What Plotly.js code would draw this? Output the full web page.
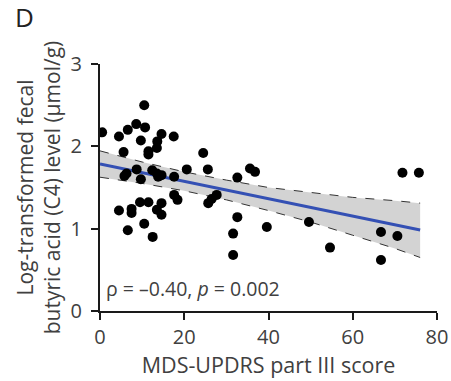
<!DOCTYPE html>
<html>
<head>
<meta charset="utf-8">
<script src="https://cdn.plot.ly/plotly-3.0.1.min.js"></script>
<style>html,body{margin:0;padding:0;background:#fff;}#chart{width:451px;height:381px;}</style>
</head>
<body>
<div id="chart"></div>
<script>
// MDS-UPDRS part III score (x) and log-transformed fecal C4 level (y)
var updrs = [10.5,0.5,4.5,6.6,8.6,10.7,9.7,14.6,17.5,13.6,13.5,11.5,11.5,5.6,24.5,20.6,25.6,35.6,36.8,32.6,
             8.7,6.3,5.8,9.7,12.4,13.5,14.6,13.8,17.6,17.6,18.4,27.7,26.5,25.7,9.5,11.5,14.6,4.5,7.5,7.5,
             13.5,14.6,10.5,6.6,12.5,32.6,31.6,31.6,39.6,49.6,54.6,66.7,70.6,66.7,71.8,75.7];
var c4 = [2.50,2.17,2.12,2.20,2.27,2.23,2.07,2.15,2.12,2.06,1.98,1.94,1.90,1.93,1.92,1.72,1.72,1.73,1.69,1.62,
          1.72,1.67,1.64,1.60,1.71,1.67,1.65,1.63,1.63,1.41,1.35,1.41,1.36,1.31,1.32,1.32,1.31,1.22,1.24,1.19,
          1.23,1.17,1.06,0.98,0.90,1.14,0.94,0.68,1.02,1.08,0.77,0.96,0.91,0.62,1.68,1.68];
// Regression line and 95% confidence band
var fitX = [0, 76];
var fitY = [1.785, 0.983];
var bandX = [0, 10, 20, 30, 40, 50, 60, 70, 76];
var bandUpper = [1.945, 1.81, 1.69, 1.59, 1.50, 1.44, 1.38, 1.34, 1.31];
var bandLower = [1.625, 1.55, 1.46, 1.35, 1.22, 1.08, 0.92, 0.76, 0.65];
var xTicks = [0, 20, 40, 60, 80];
var yTicks = [0, 1, 2, 3];

var txtColor = '#404040';
var font = 'Open Sans, sans-serif';

var traces = [
  {x: bandX, y: bandLower, mode: 'lines', line: {color: '#333', width: 1, dash: 'dash'}, hoverinfo: 'skip', showlegend: false},
  {x: bandX, y: bandUpper, mode: 'lines', fill: 'tonexty', fillcolor: '#d3d3d3', line: {color: '#333', width: 1, dash: 'dash'}, hoverinfo: 'skip', showlegend: false},
  {x: fitX, y: fitY, mode: 'lines', line: {color: '#3450b4', width: 3}, showlegend: false},
  {x: updrs, y: c4, mode: 'markers', marker: {color: '#000', size: 10}, showlegend: false}
];

var layout = {
  width: 451, height: 381,
  margin: {l: 100, r: 14, t: 64, b: 70},
  paper_bgcolor: '#fff', plot_bgcolor: '#fff',
  font: {family: font, color: txtColor, size: 20},
  xaxis: {
    range: [0, 80], tickvals: xTicks, ticktext: xTicks.map(String),
    showline: true, linecolor: '#1a1a1a', linewidth: 2, ticks: 'outside', ticklen: 7, tickwidth: 2, tickcolor: '#1a1a1a',
    showgrid: false, zeroline: false, tickfont: {size: 20, color: txtColor}, ticklabelstandoff: 0,
    title: {text: 'MDS-UPDRS part III score', font: {size: 21.5, color: txtColor}, standoff: 2}
  },
  yaxis: {
    range: [0, 3], tickvals: yTicks, ticktext: yTicks.map(String),
    showline: true, linecolor: '#1a1a1a', linewidth: 2, ticks: 'outside', ticklen: 7, tickwidth: 2, tickcolor: '#1a1a1a',
    showgrid: false, zeroline: false, tickfont: {size: 20, color: txtColor}, ticklabelstandoff: 5,
    title: {text: 'Log-transformed fecal<br>butyric acid (C4) level (µmol/g)', font: {size: 21, color: txtColor}, standoff: 4}
  },
  annotations: [
    {text: 'D', xref: 'paper', yref: 'paper', x: -0.258, y: 1.19, xanchor: 'left', yanchor: 'middle', showarrow: false, font: {size: 26, color: '#222'}},
    {text: 'ρ = –0.40, <i>p</i> = 0.002', xref: 'x', yref: 'y', x: 1, y: 0.27, xanchor: 'left', yanchor: 'middle', showarrow: false, font: {size: 19.5, color: txtColor}}
  ]
};

Plotly.newPlot('chart', traces, layout, {displayModeBar: false, staticPlot: true});
</script>
</body>
</html>
